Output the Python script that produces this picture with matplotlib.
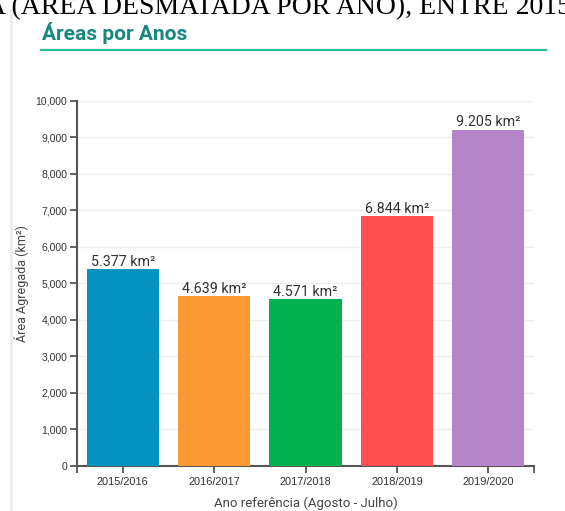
import matplotlib
matplotlib.use("Agg")
import matplotlib.pyplot as plt
from matplotlib.lines import Line2D

categories = ["2015/2016", "2016/2017", "2017/2018", "2018/2019", "2019/2020"]
values = [5377, 4639, 4571, 6844, 9205]
colors = ["#0492c2", "#fd9a33", "#00b14f", "#ff4f4f", "#b584c9"]
yticks = [0, 1000, 2000, 3000, 4000, 5000, 6000, 7000, 8000, 9000, 10000]

W, H = 565, 511
fig = plt.figure(figsize=(W / 100, H / 100), dpi=100)
fig.patch.set_facecolor("white")

# header caption (cropped serif text)
fig.text(-14 / W, 1 - 14 / H, "A (ÁREA DESMATADA POR ANO), ENTRE 2015",
         family="Liberation Serif", fontsize=20, color="black",
         ha="left", va="baseline")

# left light gray panel border
fig.add_artist(Line2D([11 / W, 11 / W], [0, 1 - 10 / H], color="#ebebeb", lw=2,
                      transform=fig.transFigure))

# panel title + underline
fig.text(42 / W, 1 - 33 / H, "Áreas por Anos", family="Roboto", fontweight="bold",
         fontsize=15, color="#17877f", ha="left", va="center")
fig.add_artist(Line2D([41 / W, 546 / W], [1 - 50 / H, 1 - 50 / H], color="#2dbd95", lw=1.6,
                      transform=fig.transFigure))

ax = fig.add_axes([77 / W, 1 - 466 / H, (534 - 77) / W, (466 - 100.5) / H])
x = list(range(len(categories)))
ax.bar(x, values, width=0.79, color=colors, zorder=3)
ax.set_xlim(-0.5, len(categories) - 0.5)
ax.set_ylim(0, 10000)

for xi, v in zip(x, values):
    lab = f"{v:,}".replace(",", ".") + " km²"
    ax.text(xi, v + 90, lab, ha="center", va="baseline", family="Roboto",
            fontsize=10.3, color="#333333", zorder=4)

ax.set_yticks(yticks)
ax.set_yticklabels([f"{t:,}" for t in yticks])
ax.set_xticks(x)
ax.set_xticklabels(categories)
ax.set_xticks([-0.5, len(categories) - 0.5], minor=True)
ax.tick_params(axis="x", which="minor", length=5, width=1.3, color="#555555")
ax.tick_params(axis="x", which="major", length=5, width=1.3, color="#555555",
               labelsize=7.9, labelcolor="#333333", pad=3)
ax.tick_params(axis="y", length=5, width=1.3, color="#555555",
               labelsize=7.5, labelcolor="#333333", pad=2)
for lbl in ax.get_xticklabels() + ax.get_yticklabels():
    lbl.set_family("Liberation Sans")

ax.grid(axis="y", color="#eeeeee", lw=1, zorder=0)
for s in ["top", "right"]:
    ax.spines[s].set_visible(False)
for s in ["left", "bottom"]:
    ax.spines[s].set_color("#555555")
    ax.spines[s].set_linewidth(1.5)

ax.set_ylabel("Área Agregada (km²)", family="Roboto", fontsize=9, color="#444444", labelpad=5)
ax.set_xlabel("Ano referência (Agosto - Julho)", family="Roboto", fontsize=9.5,
              color="#444444", labelpad=7)

fig.savefig("out.png", dpi=100, facecolor="white")
